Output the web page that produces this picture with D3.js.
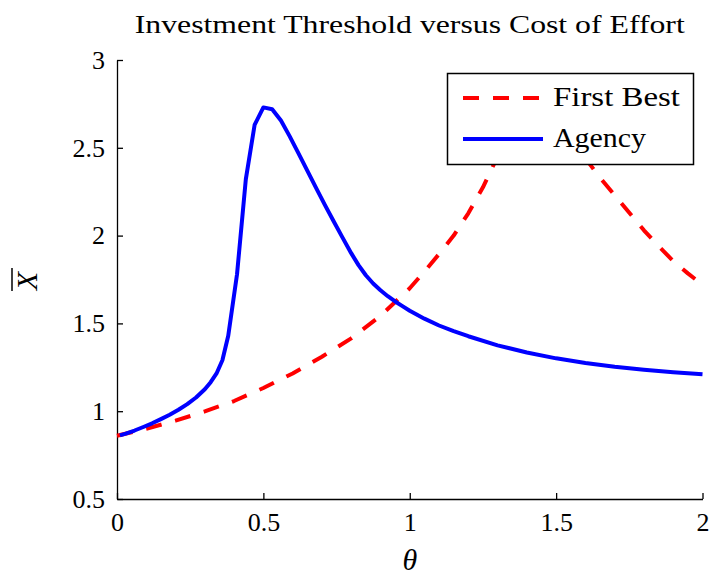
<!DOCTYPE html>
<html>
<head>
<meta charset="utf-8">
<script src="https://cdn.jsdelivr.net/npm/d3@7"></script>
<style>
  html, body { margin: 0; padding: 0; background: #fff; }
  svg { display: block; }
</style>
</head>
<body>
<svg id="chart" width="713" height="578"></svg>
<script>
// ---- data ----
const titleText = "Investment Threshold versus Cost of Effort";
const xLabel = "θ";
const yLabel = "X";
const seriesNames = ["First Best", "Agency"];

const firstBestTheta = [0.0, 0.1, 0.2, 0.3, 0.4, 0.5, 0.6, 0.7, 0.8, 0.9, 1.0, 1.05, 1.1, 1.15, 1.2, 1.25, 1.3, 1.35, 1.4, 1.43, 1.47, 1.5, 1.55, 1.6, 1.65, 1.7, 1.75, 1.8, 1.85, 1.9, 1.95, 2.0];
const firstBestValues = [0.86, 0.9, 0.946, 0.999, 1.058, 1.132, 1.215, 1.31, 1.415, 1.543, 1.70, 1.795, 1.895, 2.0, 2.127, 2.275, 2.45, 2.64, 2.80, 2.86, 2.78, 2.70, 2.57, 2.44, 2.33, 2.23, 2.13, 2.03, 1.94, 1.855, 1.785, 1.72];

const agencyTheta = [0.01, 0.03, 0.06, 0.09, 0.12, 0.15, 0.18, 0.21, 0.24, 0.27, 0.3, 0.32, 0.34, 0.36, 0.38, 0.41, 0.44, 0.47, 0.5, 0.53, 0.56, 0.59, 0.62, 0.65, 0.68, 0.71, 0.74, 0.77, 0.8, 0.825, 0.85, 0.875, 0.9, 0.925, 0.95, 0.975, 1.0, 1.05, 1.1, 1.15, 1.2, 1.3, 1.4, 1.5, 1.6, 1.7, 1.8, 1.9, 2.0];
const agencyValues = [0.862, 0.872, 0.89, 0.91, 0.931, 0.955, 0.98, 1.008, 1.04, 1.078, 1.125, 1.165, 1.215, 1.29, 1.43, 1.78, 2.32, 2.63, 2.73, 2.72, 2.655, 2.565, 2.468, 2.37, 2.272, 2.175, 2.082, 1.99, 1.90, 1.832, 1.774, 1.727, 1.689, 1.655, 1.625, 1.598, 1.572, 1.527, 1.488, 1.456, 1.427, 1.375, 1.334, 1.301, 1.275, 1.253, 1.236, 1.222, 1.21];

const xTicks = [0, 0.5, 1, 1.5, 2];
const yTicks = [0.5, 1, 1.5, 2, 2.5, 3];
const xDomain = [0, 2];
const yDomain = [0.5, 3];

// ---- font detection ----
function fontAvailable(name) {
  const c = document.createElement("canvas").getContext("2d");
  const s = "Investment Threshold 0.5 1.5 WMgy";
  c.font = "32px monospace"; const w1 = c.measureText(s).width;
  c.font = `32px "${name}", monospace`; const w2 = c.measureText(s).width;
  c.font = "32px sans-serif"; const w3 = c.measureText(s).width;
  c.font = `32px "${name}", sans-serif`; const w4 = c.measureText(s).width;
  return w1 !== w2 || w3 !== w4;
}
const candidates = ["Liberation Serif", "DejaVu Serif", "Noto Serif", "FreeSerif", "Times New Roman"];
const serifFont = candidates.find(fontAvailable) || "serif";
const isWide = serifFont === "DejaVu Serif";
const F = `"${serifFont}", serif`;
const sz = isWide
  ? { tick: 23, title: 22, legend: 25, label: 28 }
  : { tick: 26, title: 25, legend: 28, label: 30 };

// ---- layout ----
const svg = d3.select("#chart");
const m = { left: 117, right: 702.5, top: 60, bottom: 499 };

const x = d3.scaleLinear().domain(xDomain).range([m.left, m.right]);
const y = d3.scaleLinear().domain(yDomain).range([m.bottom, m.top]);

// axes
const xAxis = d3.axisBottom(x).tickValues(xTicks).tickFormat(d3.format("~g"))
  .tickSizeInner(-6).tickSizeOuter(0).tickPadding(14);
const yAxis = d3.axisLeft(y).tickValues(yTicks).tickFormat(d3.format("~g"))
  .tickSizeInner(-6).tickSizeOuter(0).tickPadding(12);

const gx = svg.append("g").attr("transform", `translate(0,${m.bottom})`).call(xAxis);
const gy = svg.append("g").attr("transform", `translate(${m.left},0)`).call(yAxis);
[gx, gy].forEach(g => {
  g.attr("font-family", null).attr("font-size", null);
  g.selectAll("path.domain").attr("stroke", "#000").attr("stroke-width", 1.3);
  g.selectAll(".tick line").attr("stroke", "#000").attr("stroke-width", 1.3);
  g.selectAll(".tick text").style("font-family", F).style("font-size", sz.tick + "px").attr("fill", "#000");
});

// lines
const line = d3.line().x(d => x(d[0])).y(d => y(d[1]));
const fbData = firstBestTheta.map((t, i) => [t, firstBestValues[i]]);
const agData = agencyTheta.map((t, i) => [t, agencyValues[i]]);

svg.append("path").datum(fbData).attr("d", line)
  .attr("fill", "none").attr("stroke", "#ff0000").attr("stroke-width", 4)
  .attr("stroke-dasharray", "16,14").attr("stroke-linejoin", "round");
svg.append("path").datum(agData).attr("d", line)
  .attr("fill", "none").attr("stroke", "#0000ff").attr("stroke-width", 4)
  .attr("stroke-linejoin", "round");

// title
svg.append("text").attr("x", (m.left + m.right) / 2).attr("y", 33)
  .attr("text-anchor", "middle").style("font-family", F).style("font-size", sz.title + "px")
  .attr("textLength", 550).attr("lengthAdjust", "spacingAndGlyphs")
  .text(titleText);

// x label
svg.append("text").attr("x", x(1)).attr("y", 570)
  .attr("text-anchor", "middle").style("font-family", F).style("font-size", sz.label + "px").style("font-style", "italic")
  .text(xLabel);

// y label (rotated, with overline)
const yl = svg.append("g").attr("transform", "translate(37,281) rotate(-90)");
yl.append("text").attr("x", 0).attr("y", 0)
  .attr("text-anchor", "middle").style("font-family", F).style("font-size", sz.label + "px").style("font-style", "italic")
  .text(yLabel);
yl.append("line").attr("x1", -10).attr("x2", 13).attr("y1", -25).attr("y2", -25)
  .attr("stroke", "#000").attr("stroke-width", 1.5);

// legend
const lg = svg.append("g");
lg.append("rect").attr("x", 447.5).attr("y", 73.5).attr("width", 246).attr("height", 91)
  .attr("fill", "#fff").attr("stroke", "#000").attr("stroke-width", 1.5);
const legendItems = [
  { name: seriesNames[0], color: "#ff0000", dash: "16,14", yy: 98, len: 127 },
  { name: seriesNames[1], color: "#0000ff", dash: null, yy: 139, len: 93 }
];
legendItems.forEach(it => {
  lg.append("line").attr("x1", 463).attr("x2", 543).attr("y1", it.yy).attr("y2", it.yy)
    .attr("stroke", it.color).attr("stroke-width", 4)
    .attr("stroke-dasharray", it.dash);
  lg.append("text").attr("x", 553).attr("y", it.yy + 8)
    .style("font-family", F).style("font-size", sz.legend + "px")
    .attr("textLength", it.len).attr("lengthAdjust", "spacingAndGlyphs")
    .text(it.name);
});
</script>
</body>
</html>
